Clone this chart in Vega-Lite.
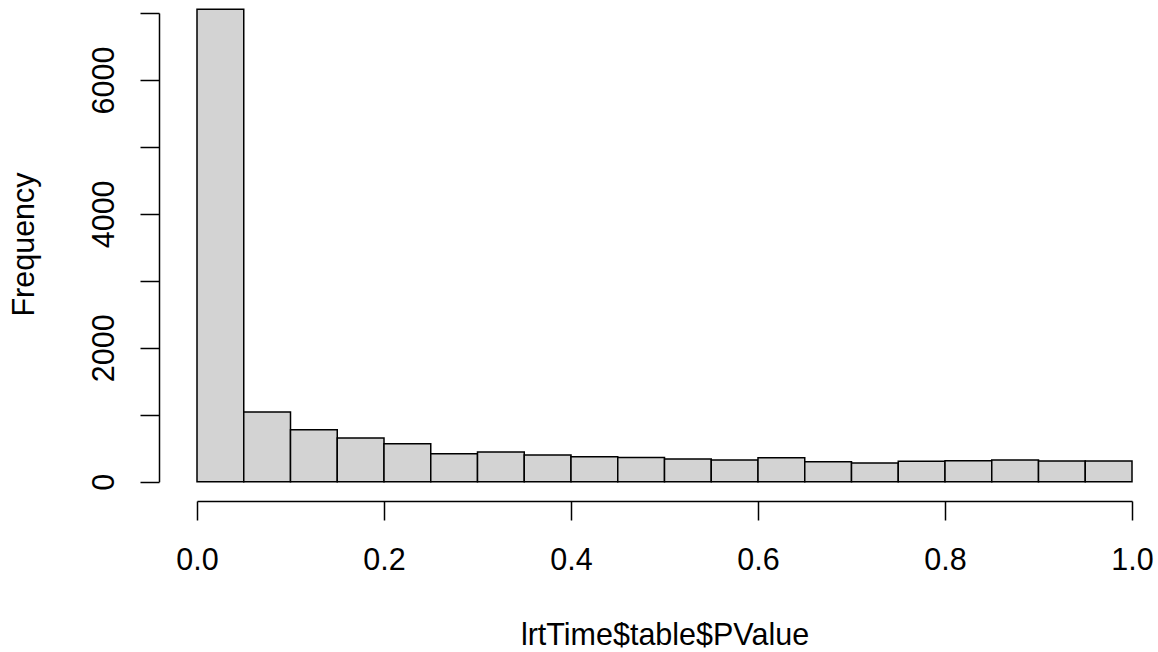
{
  "$schema": "https://vega.github.io/schema/vega-lite/v6.json",
  "width": 935,
  "height": 468.7,
  "autosize": {"type": "none"},
  "padding": {"left": 197, "top": 13, "right": 26, "bottom": 170.3},
  "background": "white",
  "config": {
    "view": {"stroke": null},
    "font": "Liberation Sans",
    "axis": {
      "grid": false,
      "domainColor": "black",
      "domainWidth": 1.5,
      "tickColor": "black",
      "tickWidth": 1.5,
      "tickSize": 19,
      "labelColor": "black",
      "labelFont": "Liberation Sans",
      "labelFontSize": 30.5,
      "titleColor": "black",
      "titleFont": "Liberation Sans",
      "titleFontSize": 30.5,
      "titleFontWeight": "normal",
      "labelOverlap": false,
      "labelFlush": false
    }
  },
  "data": {
    "values": [
      {"bin_start": 0.00, "bin_end": 0.05, "count": 7055},
      {"bin_start": 0.05, "bin_end": 0.10, "count": 1040},
      {"bin_start": 0.10, "bin_end": 0.15, "count": 776},
      {"bin_start": 0.15, "bin_end": 0.20, "count": 652},
      {"bin_start": 0.20, "bin_end": 0.25, "count": 567},
      {"bin_start": 0.25, "bin_end": 0.30, "count": 418},
      {"bin_start": 0.30, "bin_end": 0.35, "count": 443},
      {"bin_start": 0.35, "bin_end": 0.40, "count": 398},
      {"bin_start": 0.40, "bin_end": 0.45, "count": 373},
      {"bin_start": 0.45, "bin_end": 0.50, "count": 363},
      {"bin_start": 0.50, "bin_end": 0.55, "count": 339},
      {"bin_start": 0.55, "bin_end": 0.60, "count": 324},
      {"bin_start": 0.60, "bin_end": 0.65, "count": 358},
      {"bin_start": 0.65, "bin_end": 0.70, "count": 299},
      {"bin_start": 0.70, "bin_end": 0.75, "count": 279},
      {"bin_start": 0.75, "bin_end": 0.80, "count": 304},
      {"bin_start": 0.80, "bin_end": 0.85, "count": 313},
      {"bin_start": 0.85, "bin_end": 0.90, "count": 324},
      {"bin_start": 0.90, "bin_end": 0.95, "count": 309},
      {"bin_start": 0.95, "bin_end": 1.00, "count": 309}
    ]
  },
  "mark": {"type": "bar", "fill": "#D3D3D3", "stroke": "black", "strokeWidth": 1.5, "clip": false},
  "encoding": {
    "x": {
      "field": "bin_start",
      "type": "quantitative",
      "scale": {"domain": [0, 1], "nice": false, "zero": false},
      "axis": {
        "orient": "bottom",
        "offset": 19.3,
        "values": [0, 0.2, 0.4, 0.6, 0.8, 1.0],
        "format": ".1f",
        "labelPadding": 49,
        "labelBaseline": "alphabetic",
        "labelAlign": "center",
        "title": "lrtTime$table$PValue",
        "titleBaseline": "alphabetic",
        "titleY": 143,
        "titleAnchor": "middle"
      }
    },
    "x2": {"field": "bin_end"},
    "y": {
      "field": "count",
      "type": "quantitative",
      "scale": {"domain": [0, 7000], "nice": false, "zero": true},
      "axis": {
        "orient": "left",
        "offset": 38,
        "values": [0, 1000, 2000, 3000, 4000, 5000, 6000, 7000],
        "format": "d",
        "labelExpr": "datum.value % 2000 == 0 ? datum.label : ''",
        "labelAngle": 270,
        "labelAlign": "center",
        "labelBaseline": "alphabetic",
        "labelPadding": 26.7,
        "title": "Frequency",
        "titleAngle": 270,
        "titleAlign": "center",
        "titleBaseline": "alphabetic",
        "titleX": -126,
        "titleY": 231
      }
    },
    "y2": {"datum": 0}
  }
}
